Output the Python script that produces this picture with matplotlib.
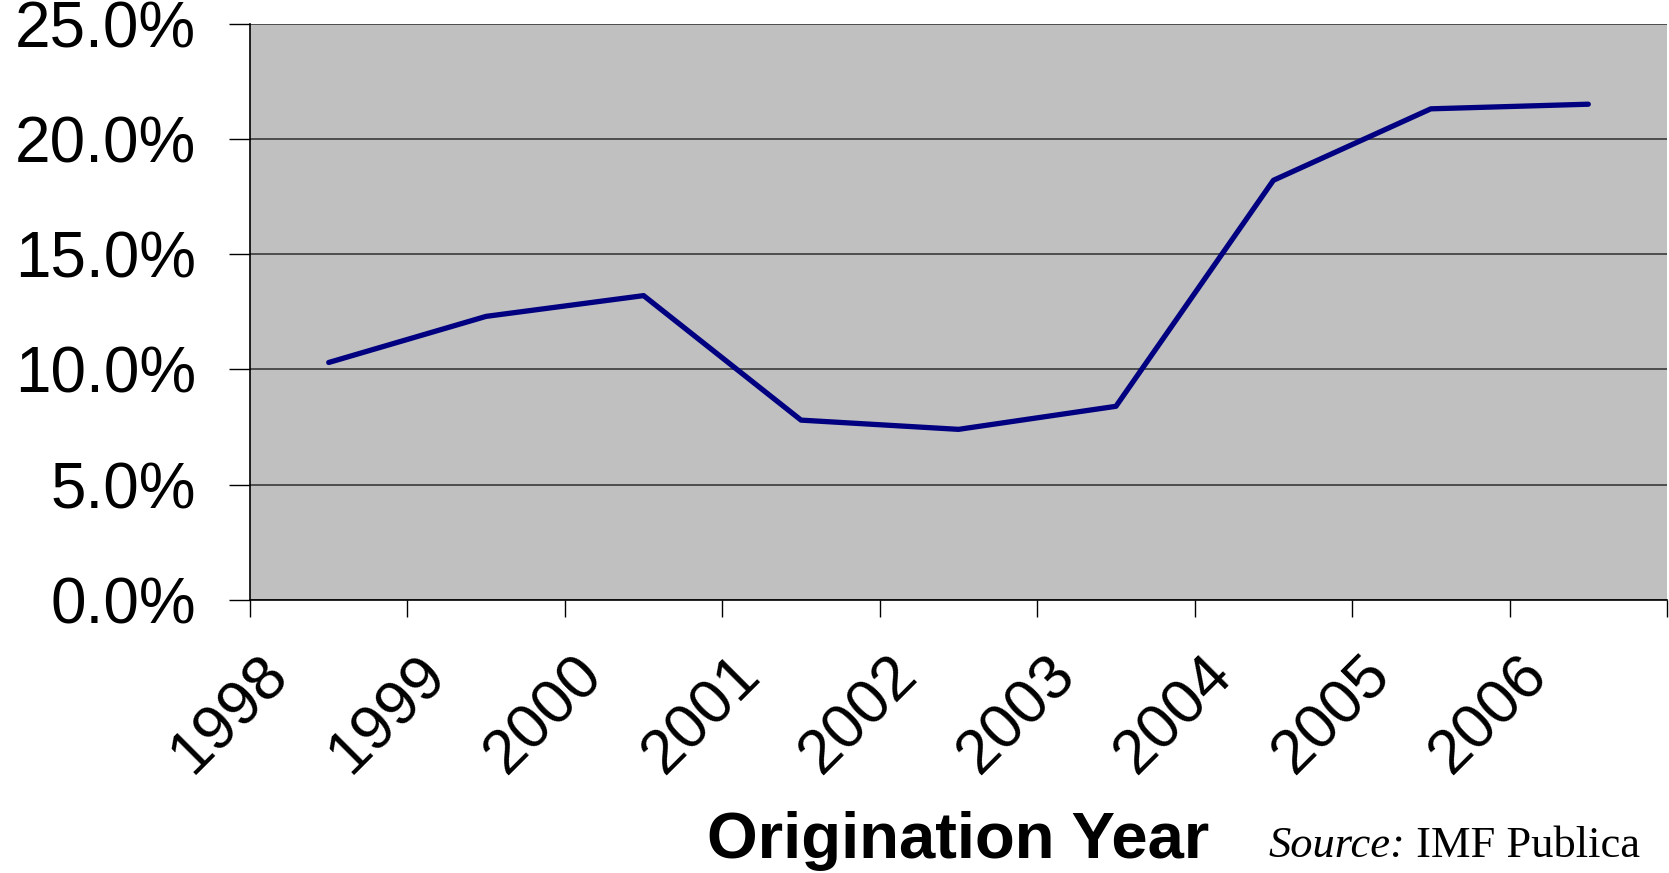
import numpy as np
import matplotlib
matplotlib.use("Agg")
import matplotlib.pyplot as plt
import matplotlib.transforms as mtransforms
from matplotlib.ticker import FuncFormatter

# Data
years = ['1998', '1999', '2000', '2001', '2002', '2003', '2004', '2005', '2006']
share = [10.3, 12.3, 13.2, 7.8, 7.4, 8.4, 18.2, 21.3, 21.5]

plt.rcParams['font.family'] = ['Liberation Sans', 'DejaVu Sans']

fig = plt.figure(figsize=(16.69, 8.73), dpi=100)
ax = fig.add_axes([250 / 1669, 1 - 600 / 873, 1417 / 1669, 576.5 / 873])

x = np.arange(len(years)) + 0.5
ax.plot(x, share, color='#000080', linewidth=3.8, solid_capstyle='round', zorder=3)

ax.set_facecolor('#C0C0C0')
ax.set_xlim(0, len(years))
ax.set_ylim(0, 25)
ax.set_yticks(np.arange(0, 26, 5))
ax.yaxis.set_major_formatter(FuncFormatter(lambda v, p: f'{v:.1f}%'))
ax.grid(axis='y', color='#3a3a3a', linewidth=1.2, zorder=1)
ax.set_axisbelow(True)

ax.set_xticks(np.arange(len(years) + 1))
ax.set_xticklabels(years + [''])

for s in ['top', 'right']:
    ax.spines[s].set_visible(False)
for s in ['left', 'bottom']:
    ax.spines[s].set_color('black')
    ax.spines[s].set_linewidth(1.2)

ax.tick_params(axis='y', direction='out', length=15, width=1, pad=24, labelsize=46)
ax.tick_params(axis='x', direction='out', length=12, width=1, pad=20, labelsize=45)

offset = mtransforms.ScaledTranslation(8 / 100, 0, fig.dpi_scale_trans)
for lab in ax.get_xticklabels():
    lab.set_rotation(45)
    lab.set_ha('right')
    lab.set_va('top')
    lab.set_rotation_mode('anchor')
    lab.set_transform(lab.get_transform() + offset)

fig.text(958 / 1669, 1 - 841 / 873, 'Origination Year', fontsize=47, fontweight='bold',
         ha='center', va='center')
src = fig.text(1268 / 1669, 1 - 857 / 873, 'Source:', family='Liberation Serif',
               style='italic', fontsize=32, ha='left', va='baseline')
ax.annotate(' IMF Publica', xy=(1, 0), xycoords=src, xytext=(0, 0),
            textcoords='offset points', family='Liberation Serif', fontsize=32,
            ha='left', va='bottom', annotation_clip=False)

fig.savefig('out.png', dpi=100)
